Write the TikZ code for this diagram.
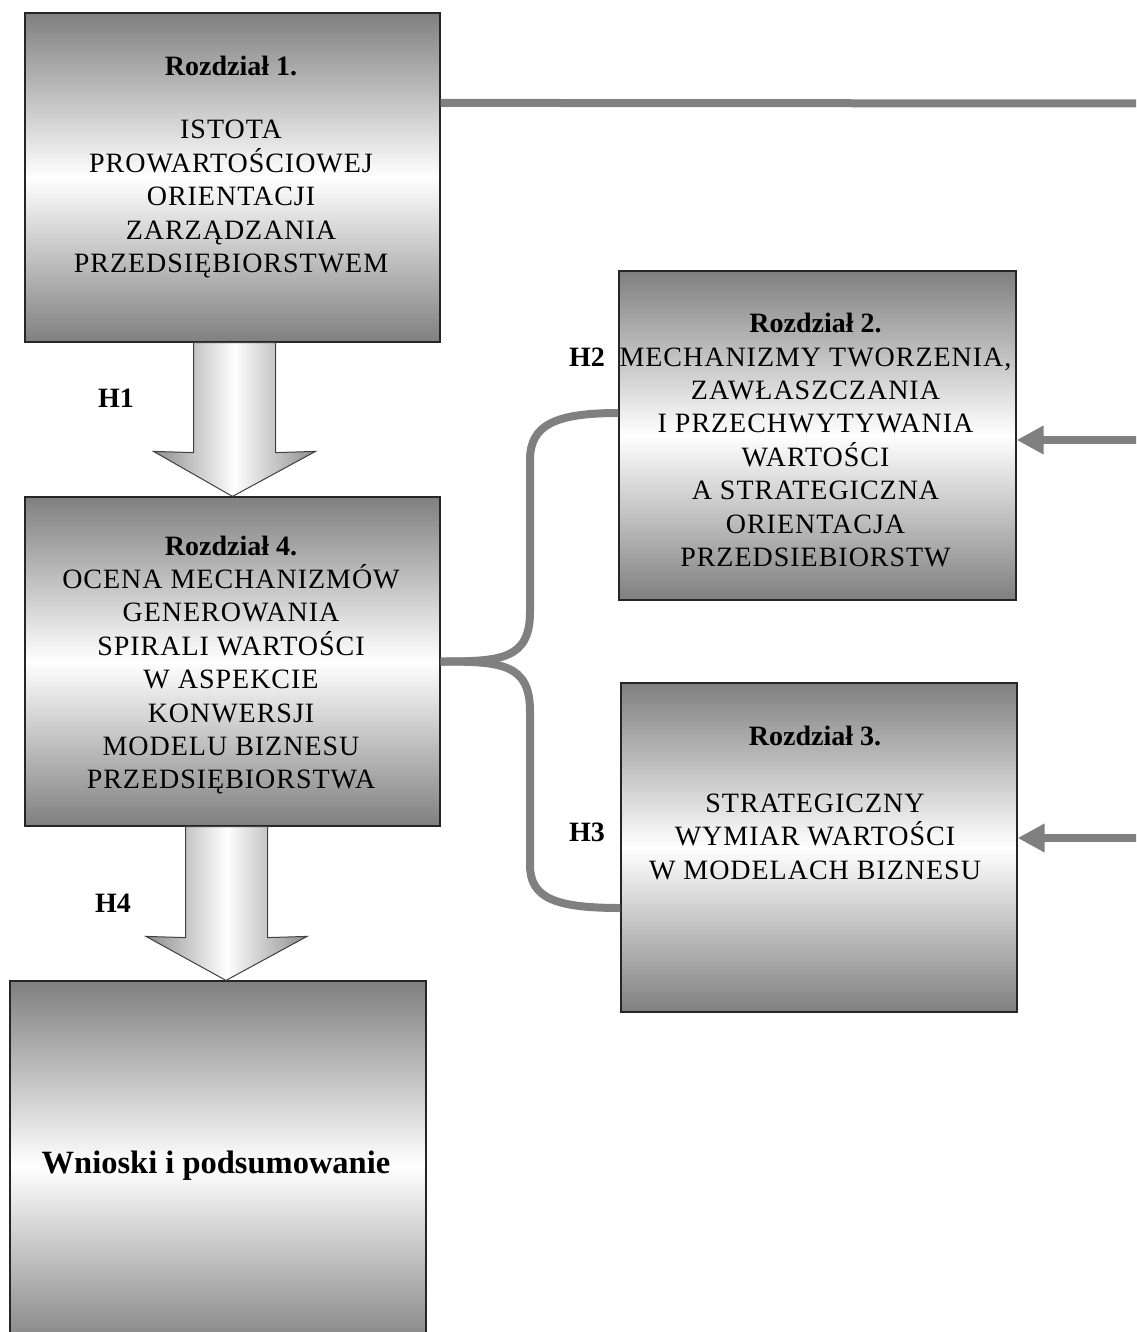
\documentclass[tikz,border=0pt]{standalone}
\usepackage{fontspec}
\setmainfont{Liberation Serif}[LetterSpace=3.5, BoldFeatures={LetterSpace=0}]
\usetikzlibrary{arrows.meta,calc}

\tikzset{
	chapbox/.style={draw=black!85, line width=1.2pt, top color=black!50, bottom color=black!50, middle color=white, minimum width=415pt, minimum height=329pt, inner sep=0pt},
	chaptext/.style={align=center, inner sep=0pt, font=\fontsize{28}{33.4}\selectfont},
	hyplabel/.style={inner sep=0pt, font=\fontsize{28}{33.4}\selectfont\bfseries},
	bigarrow/.style={draw=black!75, line width=1pt, left color=black!45, right color=black!45, middle color=white},
	link/.style={draw=black!50, line width=8pt},
	linkarrow/.style={link, -{Triangle[length=27pt,width=27pt]}}
}

\begin{document}
\begin{tikzpicture}[x=1pt,y=-1pt]
		\useasboundingbox (0,0) rectangle (1136,1332);
		\clip (0,0) rectangle (1136,1332);
		% Chapter boxes
		\node[chapbox] (r1) at (232.5,177.5) {};
		\node[chapbox] (r4) at (232.5,661.5) {};
		\node[chapbox, minimum width=416pt, minimum height=370pt] (r5) at (218,1166) {};
		\node[chapbox, minimum width=397pt] (r2) at (817.5,435.5) {};
		\node[chapbox, minimum width=396pt] (r3) at (819,847.5) {};
		% Labels
		\node[chaptext] (t1) at (231,167) {\textbf{Rozdział 1.}\\[30pt]ISTOTA\\PROWARTOŚCIOWEJ\\ORIENTACJI\\ZARZĄDZANIA\\PRZEDSIĘBIORSTWEM};
		\node[chaptext] (t4) at (231,665) {\textbf{Rozdział 4.}\\OCENA MECHANIZMÓW\\GENEROWANIA\\SPIRALI WARTOŚCI\\W ASPEKCIE\\KONWERSJI\\MODELU BIZNESU\\PRZEDSIĘBIORSTWA};
		\node[chaptext] (t2) at (815.5,440) {\textbf{Rozdział 2.}\\MECHANIZMY TWORZENIA,\\ZAWŁASZCZANIA\\I PRZECHWYTYWANIA\\WARTOŚCI\\A STRATEGICZNA\\ORIENTACJA\\PRZEDSIEBIORSTW};
		\node[chaptext] (t3) at (815,803) {\textbf{Rozdział 3.}\\[33pt]STRATEGICZNY\\WYMIAR WARTOŚCI\\W MODELACH BIZNESU};
		\node[chaptext, font=\fontsize{32.5}{38}\selectfont\bfseries] (t5) at (216,1166) {Wnioski i podsumowanie};
		% Hypotheses
		\node[hyplabel] (h1) at (116,398) {H1};
		\node[hyplabel] (h2) at (587,357) {H2};
		\node[hyplabel] (h3) at (587,832) {H3};
		\node[hyplabel] (h4) at (113,903) {H4};
		% Block arrows
		\draw[bigarrow] ($(r1.south)+(-39,0)$) -- ($(r1.south)+(-39,110)$) -- ($(r4.north)+(-79,-45)$) -- (r4.north)
			-- ($(r4.north)+(83,-45)$) -- ($(r1.south)+(43,110)$) -- ($(r1.south)+(43,0)$) -- cycle;
		\coordinate (a4) at ($(r4.south)+(-6,0)$);
		\coordinate (b4) at ($(r5.north)+(8,0)$);
		\draw[bigarrow] ($(a4)+(-41,0)$) -- ($(a4)+(-41,111)$) -- ($(b4)+(-80,-44)$) -- (b4)
			-- ($(b4)+(81,-44)$) -- ($(a4)+(41,111)$) -- ($(a4)+(41,0)$) -- cycle;
		% Connectors
		\coordinate (e1) at (1140,103.5);
		\coordinate (e2) at (1140,440);
		\coordinate (e3) at (1140,838);
		\draw[link] ($(r1.north east)+(0,90.5)$) -- (e1);
		\draw[linkarrow] (e2) -- ($(r2.east)+(0,4.5)$);
		\draw[linkarrow] (e3) -- ($(r3.east)+(0,-9.5)$);
		% Brace
		\draw[link] (r4.east) .. controls (500,661.5) and (530,660) .. (530,612) -- (530,460)
			.. controls (530,425) and (555,413) .. ($(r2.west)+(0,-22.5)$);
		\draw[link] (r4.east) .. controls (500,661.5) and (530,663) .. (530,711) -- (530,865)
			.. controls (530,898) and (555,908) .. ($(r3.west)+(0,60.5)$);
	\end{tikzpicture}
\end{document}
